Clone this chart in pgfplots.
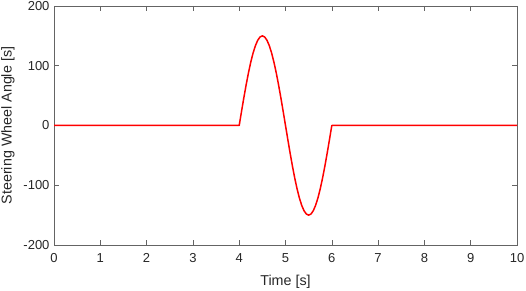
\documentclass[border=0pt]{standalone}
\usepackage{pgfplots}
\pgfplotsset{compat=1.18}
\usepackage{fontspec}
\setmainfont{Liberation Sans}
\definecolor{axgray}{RGB}{100,100,100}
\definecolor{txtgray}{RGB}{38,38,38}
\begin{document}
\begin{tikzpicture}
\begin{axis}[
  scale only axis,
  width=463pt, height=239pt,
  xmin=0, xmax=10, ymin=-200, ymax=200,
  xtick={0,1,...,10}, ytick={-200,-100,0,100,200},
  xtick pos=both, ytick pos=both,
  tick align=inside,
  major tick length=4.6pt,
  axis line style={axgray, line width=0.6pt},
  every tick/.style={axgray, line width=0.6pt},
  tick label style={font=\fontsize{13}{15}\selectfont, text=txtgray},
  label style={font=\fontsize{14.3}{17}\selectfont, text=txtgray},
  /pgf/number format/assume math mode=true,
  xlabel={Time [s]}, ylabel={Steering Wheel Angle [s]},
  xlabel style={at={(axis description cs:0.5,-0.156)}, anchor=center},
  ylabel style={at={(axis description cs:-0.0994,0.5)}, anchor=center},
  xticklabel style={yshift=-5pt},
  yticklabel style={xshift=-1pt},
]
\addplot[red, line width=1.5pt, line join=round] coordinates {
(0,0) (4.00,0)
(4.05,23.47) (4.10,46.35) (4.15,68.10) (4.20,88.17) (4.25,106.07)
(4.30,121.35) (4.35,133.65) (4.40,142.66) (4.45,148.15) (4.50,150)
(4.55,148.15) (4.60,142.66) (4.65,133.65) (4.70,121.35) (4.75,106.07)
(4.80,88.17) (4.85,68.10) (4.90,46.35) (4.95,23.47) (5.00,0)
(5.05,-23.47) (5.10,-46.35) (5.15,-68.10) (5.20,-88.17) (5.25,-106.07)
(5.30,-121.35) (5.35,-133.65) (5.40,-142.66) (5.45,-148.15) (5.50,-150)
(5.55,-148.15) (5.60,-142.66) (5.65,-133.65) (5.70,-121.35) (5.75,-106.07)
(5.80,-88.17) (5.85,-68.10) (5.90,-46.35) (5.95,-23.47) (6.00,0)
(10,0)
};
\end{axis}
\pgfresetboundingbox
\path (0,0) ++(-54pt,-46pt) rectangle (472pt,245pt);
\end{tikzpicture}
\end{document}
